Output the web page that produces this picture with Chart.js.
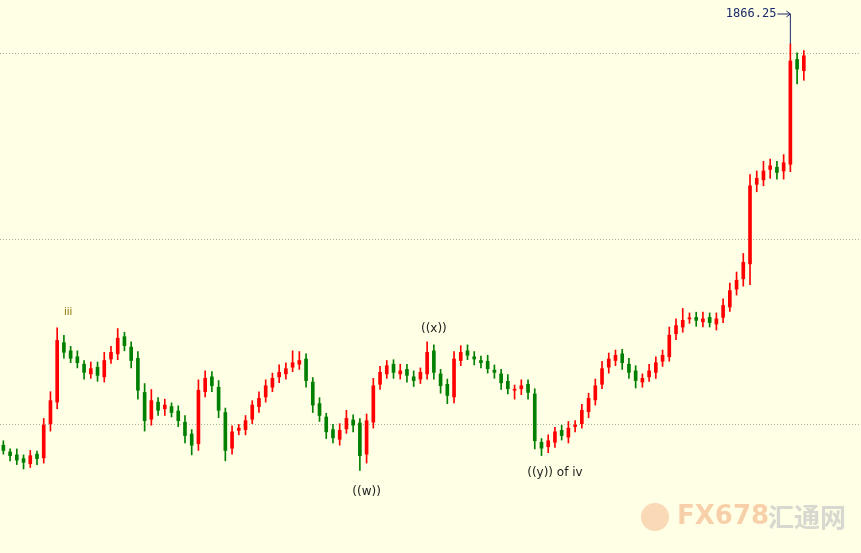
<!DOCTYPE html>
<html><head><meta charset="utf-8">
<script src="https://cdn.jsdelivr.net/npm/chart.js@4"></script>
<style>html,body{margin:0;padding:0;background:#FFFFE6;}#w{width:861px;height:553px;}</style>
</head><body><div id="w"><canvas id="c"></canvas></div>
<script>
const closes=[1811.5,1810.8,1810.2,1809.9,1810.8,1810.4,1814.9,1818.2,1826.3,1824.7,1823.9,1823.3,1822.0,1822.5,1821.6,1823.6,1824.7,1826.6,1825.6,1823.6,1819.6,1815.5,1818.2,1816.9,1817.6,1816.6,1815.5,1813.5,1812.2,1819.6,1821.2,1820.2,1816.9,1811.5,1814.0,1814.5,1815.5,1817.6,1818.5,1820.2,1821.2,1822.0,1822.5,1823.3,1823.6,1820.9,1817.6,1816.2,1814.0,1813.2,1814.2,1815.8,1814.9,1810.8,1815.5,1820.2,1822.0,1822.9,1822.0,1822.2,1821.6,1820.9,1822.0,1824.7,1822.0,1820.2,1818.9,1823.8,1824.7,1824.3,1823.8,1823.3,1822.5,1822.0,1820.6,1819.8,1819.6,1820.2,1819.3,1812.8,1811.8,1812.8,1814.0,1813.5,1814.5,1814.9,1816.9,1818.5,1820.2,1822.5,1823.8,1824.3,1823.3,1822.0,1820.9,1821.2,1822.2,1823.3,1824.3,1827.0,1828.3,1829.0,1829.2,1829.0,1829.2,1828.7,1829.2,1831.0,1833.0,1834.4,1836.8,1847.1,1848.1,1849.1,1849.8,1848.9,1850.2,1863.9,1862.8,1864.6];
const opens=[1812.2,1811.3,1810.9,1810.4,1809.7,1811.0,1810.5,1815.1,1818.0,1826.0,1824.9,1824.1,1823.1,1821.8,1822.7,1821.4,1823.8,1824.5,1826.8,1825.4,1823.9,1819.3,1815.7,1818.0,1817.1,1817.4,1816.8,1815.3,1813.7,1812.4,1819.4,1821.4,1820.0,1816.6,1811.8,1814.2,1814.3,1815.7,1817.4,1818.7,1820.0,1821.4,1821.8,1822.7,1823.1,1823.8,1820.7,1817.8,1816.0,1814.3,1813.0,1814.4,1815.6,1815.2,1811.0,1815.3,1820.4,1821.8,1823.1,1821.8,1822.4,1821.4,1821.1,1821.8,1824.9,1821.8,1820.4,1818.7,1823.6,1824.9,1824.1,1823.6,1823.5,1822.3,1821.8,1820.8,1819.6,1819.8,1820.4,1819.1,1812.6,1812.0,1812.6,1814.2,1813.3,1814.7,1815.1,1816.7,1818.3,1820.4,1822.7,1823.6,1824.5,1823.1,1822.2,1820.7,1821.4,1822.0,1823.5,1824.1,1827.2,1828.1,1829.2,1829.4,1828.8,1829.4,1828.5,1829.4,1830.8,1833.2,1834.6,1836.6,1847.3,1847.9,1849.3,1849.6,1849.1,1850.0,1864.1,1862.6];
const wickUp=[0.6,0.4,0.8,0.5,0.7,0.4,0.9,1.2,1.7,1.0,0.6,0.8,0.5,0.9,0.7,1.1,0.8,1.3,0.6,0.7,0.9,1.2,1.5,0.6,0.8,0.5,0.7,0.9,0.6,1.4,1.0,0.7,0.9,0.6,0.8,0.5,0.7,0.6,0.9,0.8,0.7,1.0,0.8,1.6,1.2,0.7,0.6,0.8,0.5,0.7,0.9,1.1,0.7,0.6,0.9,1.0,0.8,0.7,0.6,0.9,0.7,0.8,0.6,1.4,0.8,0.6,0.7,1.0,0.9,0.8,0.7,0.6,0.8,0.7,0.6,0.9,0.7,0.8,0.6,0.7,0.5,0.8,0.6,0.7,0.9,0.6,0.8,0.7,0.9,1.0,0.8,0.7,0.6,0.8,0.7,0.6,0.9,0.8,0.7,1.1,0.9,1.6,0.8,0.7,0.9,0.6,0.8,0.9,1.0,1.1,1.2,1.5,1.0,1.3,0.9,0.8,1.1,2.3,0.9,0.7];
const wickDn=[0.5,0.7,0.6,0.9,0.5,0.8,0.7,1.0,0.9,0.8,0.6,0.7,0.9,0.6,0.8,0.7,0.6,0.8,0.7,1.0,1.2,1.4,0.8,0.7,0.9,0.6,0.8,1.0,1.3,0.9,0.7,0.8,1.0,1.4,0.8,0.6,0.7,0.6,0.8,0.7,0.6,0.8,0.7,0.6,0.7,0.9,1.0,0.8,0.9,0.7,0.8,0.6,0.9,2.0,1.2,0.8,0.7,0.6,0.8,0.7,0.9,0.8,0.6,0.7,0.9,1.0,1.1,0.8,0.7,0.6,0.8,0.7,0.6,0.8,0.9,0.7,1.2,0.8,0.9,1.1,1.0,0.8,0.7,0.6,0.8,0.7,0.6,0.8,0.7,0.6,0.8,0.7,0.9,0.8,1.0,0.7,0.6,0.8,0.7,0.6,0.8,0.7,0.6,0.8,0.7,0.6,0.8,0.7,0.6,0.8,1.0,2.8,1.0,0.8,1.2,0.9,1.1,1.0,2.0,1.3];
const gridLevels=[1865,1840,1815];
const notes=[{i:9,p:1830.1,t:'iii',al:'left'},{i:64,p:1827.9,t:'((x))',al:'center'},{i:54,p:1805.9,t:'((w))',al:'center'},{i:82,p:1808.5,t:'((y)) of iv',al:'center'}];
const highLabel='1866.25';
const N=128;
const labels=Array.from({length:N},(_,i)=>i);
const hi=closes.map((c,i)=>Math.max(c,opens[i])+wickUp[i]);
const lo=closes.map((c,i)=>Math.min(c,opens[i])-wickDn[i]);
const col=closes.map((c,i)=>c>=opens[i]?'#FF0000':'#008000');
const annot={id:'annot',
 beforeDatasetsDraw(ch){const {ctx,chartArea:a,scales:{y}}=ch;ctx.save();ctx.strokeStyle='#b0b0a0';ctx.setLineDash([1,2]);ctx.lineWidth=1;
  gridLevels.forEach(v=>{const yy=Math.round(y.getPixelForValue(v))+0.5;ctx.beginPath();ctx.moveTo(a.left,yy);ctx.lineTo(a.right,yy);ctx.stroke();});ctx.restore();},
 afterDatasetsDraw(ch){const {ctx,scales:{x,y}}=ch;ctx.save();ctx.textBaseline='middle';
  notes.forEach(n=>{ctx.textAlign=n.al;ctx.fillStyle=n.t==='iii'?'#8a6d00':'#222';ctx.font=n.t==='iii'?'10px "DejaVu Sans"':'12px "DejaVu Sans"';ctx.fillText(n.t,x.getPixelForValue(n.i),y.getPixelForValue(n.p));});
  const px=x.getPixelForValue(117),py=y.getPixelForValue(hi[117]);const ly=14;
  ctx.font='12px "DejaVu Sans Mono"';ctx.fillStyle='#1a2a6a';ctx.textAlign='right';ctx.fillText(highLabel,px-14,ly);
  ctx.strokeStyle='#1a2a6a';ctx.beginPath();ctx.moveTo(px-13,ly);ctx.lineTo(px,ly);ctx.lineTo(px,py);ctx.stroke();
  ctx.beginPath();ctx.moveTo(px-4,ly-3);ctx.lineTo(px,ly);ctx.lineTo(px-4,ly+3);ctx.stroke();
  ctx.beginPath();ctx.arc(655,517,14,0,Math.PI*2);ctx.fillStyle='rgba(240,160,110,0.4)';ctx.fill();
  ctx.font='bold 26px "DejaVu Sans"';ctx.textAlign='left';ctx.fillStyle='rgba(240,170,120,0.55)';ctx.fillText('FX678',677,517);
  ctx.font='bold 26px "Noto Sans CJK SC"';ctx.fillStyle='rgba(200,200,200,0.7)';ctx.fillText('汇通网',768,517);
  ctx.restore();}};
new Chart(document.getElementById('c'),{type:'bar',
 data:{labels,datasets:[
  {data:closes.map((c,i)=>[lo[i],hi[i]]),backgroundColor:col,barThickness:1,grouped:false},
  {data:closes.map((c,i)=>[opens[i],c]),backgroundColor:col,barThickness:3,grouped:false,minBarLength:1}]},
 options:{responsive:true,maintainAspectRatio:false,animation:false,layout:{padding:0},
  plugins:{legend:{display:false},tooltip:{enabled:false}},
  scales:{x:{display:false,offset:true},y:{display:false,min:1797.7,max:1872.1}}},
 plugins:[annot]});
</script></body></html>
